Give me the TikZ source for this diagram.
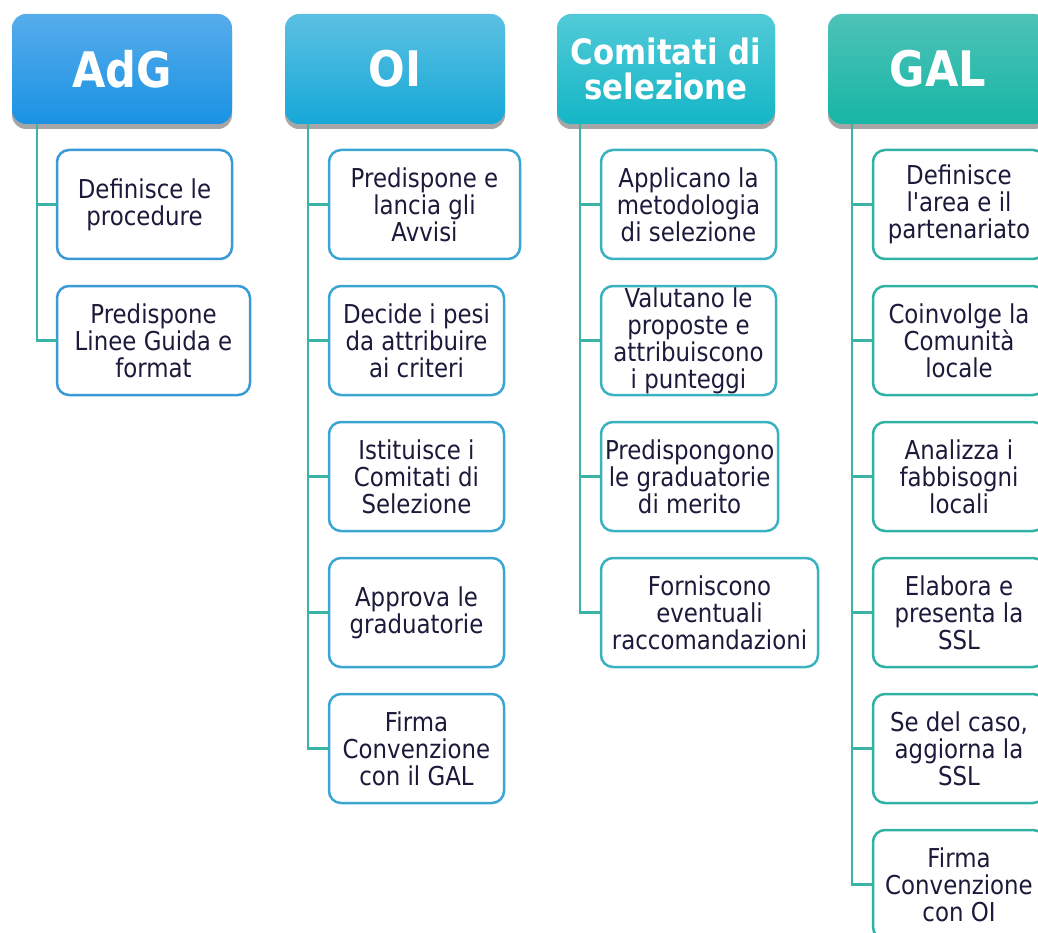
\documentclass[tikz,border=0pt]{standalone}
\usepackage{fontspec}
\setmainfont{DejaVu Sans}[FakeStretch=0.88, Ligatures=TeXOff]
\usepackage{xcolor}
\usepackage{tikz}
\usetikzlibrary{positioning, shadows}

\definecolor{adgtop}{HTML}{56ACEB}
\definecolor{adgbot}{HTML}{1A92E3}
\definecolor{oitop}{HTML}{5CC0E2}
\definecolor{oibot}{HTML}{16A8D8}
\definecolor{cdstop}{HTML}{52CAD8}
\definecolor{cdsbot}{HTML}{14B6C6}
\definecolor{galtop}{HTML}{4EC2B6}
\definecolor{galbot}{HTML}{16B6A6}
\definecolor{adgline}{HTML}{3A9AD8}
\definecolor{oiline}{HTML}{3CA6D2}
\definecolor{cdsline}{HTML}{3AB2C0}
\definecolor{galline}{HTML}{30B2A4}
\definecolor{spinecol}{HTML}{3BB3A6}
\definecolor{txt}{HTML}{1B1A3A}

\tikzset{
  hdr/.style={rounded corners=14pt, minimum width=220pt, minimum height=110pt,
    outer sep=0pt, anchor=north west, text=white, align=center,
    font=\fontsize{49}{52}\selectfont\bfseries,
    drop shadow={shadow xshift=0pt, shadow yshift=-5pt, opacity=0.35, fill=black}},
  sub/.style={draw, line width=2.5pt, rounded corners=12pt, fill=white,
    minimum width=175pt, minimum height=109pt, inner xsep=4pt, inner ysep=0pt,
    outer sep=0pt, align=center, text=txt, font=\fontsize{26}{27}\selectfont},
  spine/.style={draw=spinecol, line width=2.5pt},
}

\begin{document}
\begin{tikzpicture}[x=1pt,y=-1pt]
    \useasboundingbox (0,0) rectangle (1038,933);
    \clip (0,0) rectangle (1038,933);

    % headers
    \node[hdr, top color=adgtop, bottom color=adgbot] (adg) at (12,14) {AdG};
    \node[hdr, top color=oitop, bottom color=oibot] (oi) at (285,14) {OI};
    \node[hdr, top color=cdstop, bottom color=cdsbot, minimum width=218pt,
          font=\fontsize{35}{35}\selectfont\bfseries] (cds) at (557,14) {Comitati di\\selezione};
    \node[hdr, top color=galtop, bottom color=galbot] (gal) at (828,14) {GAL};

    % AdG
    \node[sub, draw=adgline, anchor=north west] (a1) at ([xshift=45pt,yshift=-26pt]adg.south west) {Definisce le\\procedure};
    \node[sub, draw=adgline, minimum width=193pt, below=27pt of a1.south west, anchor=north west] (a2) {Predispone\\Linee Guida e\\format};

    % OI
    \node[sub, draw=oiline, minimum width=191pt, anchor=north west] (o1) at ([xshift=44pt,yshift=-26pt]oi.south west) {Predispone e\\lancia gli\\Avvisi};
    \node[sub, draw=oiline, below=27pt of o1.south west, anchor=north west] (o2) {Decide i pesi\\da attribuire\\ai criteri};
    \node[sub, draw=oiline, below=27pt of o2.south west, anchor=north west] (o3) {Istituisce i\\Comitati di\\Selezione};
    \node[sub, draw=oiline, below=27pt of o3.south west, anchor=north west] (o4) {Approva le\\graduatorie};
    \node[sub, draw=oiline, below=27pt of o4.south west, anchor=north west] (o5) {Firma\\Convenzione\\con il GAL};

    % Comitati di selezione
    \node[sub, draw=cdsline, anchor=north west] (c1) at ([xshift=44pt,yshift=-26pt]cds.south west) {Applicano la\\metodologia\\di selezione};
    \node[sub, draw=cdsline, below=27pt of c1.south west, anchor=north west] (c2) {Valutano le\\proposte e\\attribuiscono\\i punteggi};
    \node[sub, draw=cdsline, below=27pt of c1.south west, anchor=north west, yshift=-136pt] (c3) {Predispongono\\le graduatorie\\di merito};
    \node[sub, draw=cdsline, minimum width=217pt, below=27pt of c3.south west, anchor=north west] (c4) {Forniscono\\eventuali\\raccomandazioni};

    % GAL
    \node[sub, draw=galline, minimum width=172pt, anchor=north west] (g1) at ([xshift=45pt,yshift=-26pt]gal.south west) {Definisce\\l'area e il\\partenariato};
    \node[sub, draw=galline, minimum width=172pt, below=27pt of g1.south west, anchor=north west] (g2) {Coinvolge la\\Comunità\\locale};
    \node[sub, draw=galline, minimum width=172pt, below=27pt of g2.south west, anchor=north west] (g3) {Analizza i\\fabbisogni\\locali};
    \node[sub, draw=galline, minimum width=172pt, below=27pt of g3.south west, anchor=north west] (g4) {Elabora e\\presenta la\\SSL};
    \node[sub, draw=galline, minimum width=172pt, below=27pt of g4.south west, anchor=north west] (g5) {Se del caso,\\aggiorna la\\SSL};
    \node[sub, draw=galline, minimum width=172pt, below=27pt of g5.south west, anchor=north west] (g6) {Firma\\Convenzione\\con OI};

    % connectors
    \foreach \c in {a1,a2}
        \draw[spine] ([xshift=25pt]adg.south west) |- (\c.west);
    \foreach \c in {o1,o2,o3,o4,o5}
        \draw[spine] ([xshift=23pt]oi.south west) |- (\c.west);
    \foreach \c in {c1,c2,c3,c4}
        \draw[spine] ([xshift=23pt]cds.south west) |- (\c.west);
    \foreach \c in {g1,g2,g3,g4,g5,g6}
        \draw[spine] ([xshift=24pt]gal.south west) |- (\c.west);
\end{tikzpicture}
\end{document}
